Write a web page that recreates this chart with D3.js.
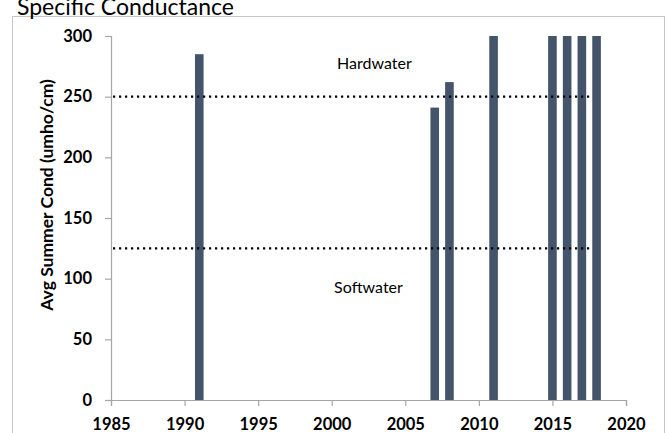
<!DOCTYPE html>
<html>
<head>
<meta charset="utf-8">
<script src="https://cdn.jsdelivr.net/npm/d3@7"></script>
<style>
  body { margin: 0; background: #fff; }
  svg { display: block; font-family: Lato, "Open Sans", sans-serif; }
</style>
</head>
<body>
<svg width="668" height="433"></svg>
<script>
// chart values
var years = [1991, 2007, 2008, 2011, 2015, 2016, 2017, 2018];
var cond = [285, 241, 262, 300, 300, 300, 300, 300];

var xTicks = [1985, 1990, 1995, 2000, 2005, 2010, 2015, 2020];
var yTicks = [0, 50, 100, 150, 200, 250, 300];

// threshold lines (hard / soft water), drawn from 1985 to ~2018
var thresholdValues = [250, 125];
var thresholdYears = [1985, 2017.7];

var zoneLabels = ["Hardwater", "Softwater"];
var zoneYears = [2002.9, 2002.5];
var zoneValues = [272.8, 88.2];

var svg = d3.select("svg"),
    width = +svg.attr("width"),
    height = +svg.attr("height");

// outer chart frame
svg.append("rect")
    .attr("x", 12.5).attr("y", 16.5)
    .attr("width", 652).attr("height", 430)
    .attr("fill", "none")
    .attr("stroke", "#c6c6c6");

svg.append("text")
    .attr("x", 17).attr("y", 15)
    .attr("font-size", 23)
    .attr("fill", "#000")
    .text("Specific Conductance");

var x = d3.scaleLinear().domain([1985, 2020]).range([111, 626]);
var y = d3.scaleLinear().domain([0, 300]).range([400, 36]);

// bars
svg.append("g")
  .selectAll("rect")
  .data(years)
  .enter().append("rect")
    .attr("x", function(d) { return x(d) - 4.3; })
    .attr("width", 8.6)
    .attr("y", function(d, i) { return y(cond[i]); })
    .attr("height", function(d, i) { return y(0) - y(cond[i]); })
    .attr("fill", "#44546a");

// dotted threshold lines
thresholdValues.forEach(function(v) {
  svg.append("line")
      .attr("x1", x(thresholdYears[0]) + 2)
      .attr("x2", x(thresholdYears[1]))
      .attr("y1", y(v)).attr("y2", y(v))
      .attr("stroke", "#000")
      .attr("stroke-width", 2.4)
      .attr("stroke-dasharray", "2.2,3.8");
});

// axes
var yAxis = svg.append("g")
    .attr("transform", "translate(" + x(1985) + ",0)")
    .call(d3.axisLeft(y).tickValues(yTicks).tickSize(6).tickPadding(13));

var xAxis = svg.append("g")
    .attr("transform", "translate(0," + y(0) + ")")
    .call(d3.axisBottom(x).tickValues(xTicks).tickFormat(d3.format("d")).tickSize(6).tickPadding(12));

[xAxis, yAxis].forEach(function(a) {
  a.selectAll("path, line").attr("stroke", "#a6a6a6").attr("stroke-width", 1.2);
  a.selectAll("text")
      .attr("font-family", "Lato, sans-serif")
      .attr("font-size", 16.5)
      .attr("font-weight", "bold")
      .attr("fill", "#000");
});

// zone labels
svg.append("g")
  .selectAll("text")
  .data(zoneLabels)
  .enter().append("text")
    .attr("x", function(d, i) { return x(zoneYears[i]); })
    .attr("y", function(d, i) { return y(zoneValues[i]); })
    .attr("text-anchor", "middle")
    .attr("font-size", 16)
    .attr("fill", "#000")
    .text(function(d) { return d; });

// y axis title
svg.append("text")
    .attr("transform", "translate(53,195) rotate(-90)")
    .attr("text-anchor", "middle")
    .attr("font-size", 17.5)
    .attr("font-weight", "bold")
    .attr("fill", "#000")
    .text("Avg Summer Cond (umho/cm)");
</script>
</body>
</html>
